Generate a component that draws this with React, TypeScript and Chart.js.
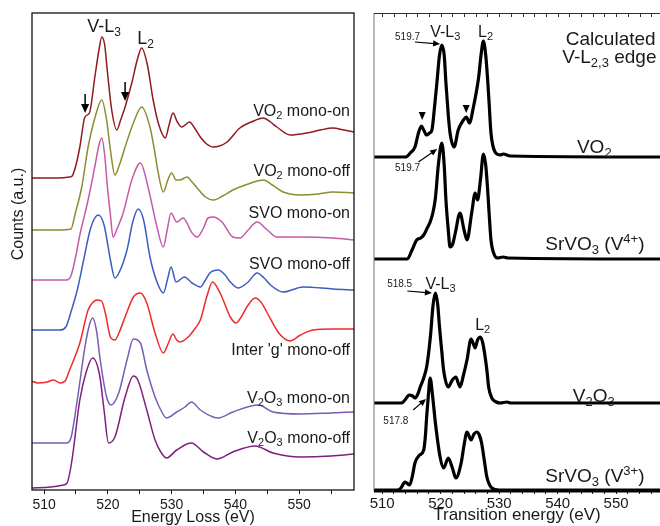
import React, { useEffect, useRef } from 'react';
import { Chart, registerables } from 'chart.js';

Chart.register(...registerables);

const FONT = '"Liberation Sans", Arial, Helvetica, sans-serif';

// ---------------- Left panel: measured spectra (x: energy loss eV, y: counts a.u. incl. stacking offset)
const vo2OnE = [508, 510, 512, 514, 514.4, 515, 515.6, 516.4, 517.1, 518.0, 518.6, 519.05, 519.5, 519.9, 520.6, 521.4, 522.0, 522.7, 523.75, 524.6, 525.3, 526.2, 527.1, 528.0, 529.0, 529.6, 530.2, 530.9, 531.6, 532.8, 533.6, 534.5, 535.5, 536.5, 537.5, 538.7, 540.7, 542.5, 544.4, 545.5, 546.5, 548.6, 551.2, 553.3, 555.3, 557, 558.6];
const vo2OnV = [312, 312, 312, 313, 314, 325, 343, 373, 377, 415, 440, 453, 445, 420, 380, 360, 370, 383, 407, 430, 442, 425, 390, 365, 352, 365, 377, 368, 363, 368, 362, 353, 346, 343, 344, 348, 362, 368, 372, 368, 363, 355, 357, 360, 362, 360, 358];

const vo2OffE = [508, 512, 514.2, 514.9, 515.9, 516.9, 518.0, 519.05, 519.8, 520.4, 521.1, 521.8, 522.7, 524.0, 525.3, 526.6, 527.3, 527.9, 528.7, 529.4, 530.0, 530.7, 531.3, 532.4, 533.2, 534.0, 535.3, 536.5, 538, 539.6, 542, 544.4, 545.8, 547.5, 550.2, 553, 555.3, 558.6];
const vo2OffV = [260, 260, 261, 277, 303, 343, 373, 390, 370, 340, 315, 325, 343, 367, 383, 363, 340, 317, 298, 310, 317, 310, 310, 313, 308, 302, 293, 290, 294, 300, 306, 310, 305, 298, 295, 296, 298, 297];

const svoOnE = [508, 513.5, 514.2, 515.0, 515.6, 516.9, 518.0, 518.6, 519.05, 519.5, 519.9, 520.4, 520.8, 521.5, 522.4, 523.75, 525.1, 526.3, 527.0, 527.7, 528.7, 529.3, 529.9, 530.8, 531.8, 533.2, 534.0, 535, 535.7, 536.5, 537.9, 539.6, 540.7, 542, 543.4, 545, 546.5, 550.2, 555.3, 558.6];
const svoOnV = [210, 210, 214, 235, 255, 290, 325, 345, 352, 335, 305, 275, 253, 262, 277, 310, 327, 303, 283, 263, 243, 260, 277, 268, 272, 257, 253, 262, 272, 273, 268, 253, 252, 260, 268, 260, 253, 253, 252, 250];

const svoOffE = [508, 512.5, 513.4, 514.3, 515.2, 516.2, 517.3, 518.5, 519.4, 520.4, 521.1, 521.8, 523.0, 523.9, 524.75, 525.6, 526.6, 527.7, 528.7, 529.4, 529.9, 530.7, 532.0, 533.2, 534.5, 535.3, 536, 537.3, 538.4, 539.2, 540.4, 542, 543.4, 544.5, 545.5, 547.5, 550.6, 555.3, 558.6];
const svoOffV = [160, 160, 163, 180, 200, 230, 262, 275, 265, 230, 212, 218, 240, 268, 281, 270, 233, 208, 197, 212, 223, 208, 213, 207, 203, 210, 217, 220, 215, 208, 202, 208, 217, 212, 205, 198, 203, 201, 200];

const interE = [508, 509, 510.5, 511.5, 512.5, 513.3, 514, 515.6, 516.9, 517.7, 518.3, 519.0, 519.6, 520.4, 521.1, 521.8, 522.7, 524.0, 525.1, 526.1, 527.4, 528.7, 529.5, 530.2, 530.8, 531.3, 532.6, 533.5, 534.5, 535.5, 536.4, 537.6, 538.4, 539.2, 540.1, 541, 541.8, 543.1, 544, 545, 546.8, 548.6, 550.2, 552.2, 555.3, 558.6];
const interV = [109, 107, 108, 110, 107, 109, 120, 147, 180, 188, 190, 189, 177, 153, 150, 158, 173, 193, 197, 187, 157, 137, 147, 156, 150, 148, 153, 160, 170, 193, 208, 197, 185, 173, 167, 174, 183, 192, 188, 177, 157, 149, 155, 160, 161, 161];

const v2o3OnE = [508, 513.5, 514.2, 515.2, 516.4, 517.1, 517.6, 518.2, 518.8, 519.8, 520.5, 521.7, 523.0, 524.0, 525.1, 526.1, 527.4, 528.3, 529.2, 530.8, 532.1, 533.1, 534.5, 536.5, 537.3, 539.6, 543.6, 545.9, 550.2, 555, 558.6];
const v2o3OnV = [47, 47, 52, 90, 143, 165, 172, 160, 130, 93, 85, 97, 130, 151, 147, 120, 93, 80, 72, 78, 83, 88, 80, 73, 72, 78, 85, 78, 76, 77, 78];

const v2o3OffE = [508, 511, 513, 513.6, 514.3, 515.6, 516.6, 517.6, 518.7, 519.4, 520.1, 521.1, 522.7, 524.0, 524.7, 526.1, 527.4, 528.3, 529.2, 530.8, 533.1, 535, 537.1, 539.6, 543.1, 545.9, 550.2, 555, 558.6];
const v2o3OffV = [2, 3, 5, 7, 27, 90, 118, 132, 115, 80, 47, 53, 93, 114, 110, 80, 50, 38, 32, 40, 47, 38, 31, 38, 44, 37, 33, 34, 36];

const leftNames = ['VO2 mono-on', 'VO2 mono-off', 'SVO mono-on', 'SVO mono-off', "Inter 'g' mono-off", 'V2O3 mono-on', 'V2O3 mono-off'];
const leftColors = ['#8E1B1E', '#8C8C32', '#C659A8', '#3B5CC0', '#EE2A2A', '#7A5CB4', '#7E2080'];
const leftE = [vo2OnE, vo2OffE, svoOnE, svoOffE, interE, v2o3OnE, v2o3OffE];
const leftV = [vo2OnV, vo2OffV, svoOnV, svoOffV, interV, v2o3OnV, v2o3OffV];
const leftTicks = [510, 515, 520, 525, 530, 535, 540, 545, 550, 555];

// ---------------- Right panel: calculated spectra (x: transition energy eV)
const vo2CalcE = [508.6, 514, 514.8, 515.6, 516.2, 516.7, 517.1, 517.6, 518.1, 518.5, 518.9, 519.35, 519.8, 520.2, 520.6, 520.9, 521.3, 521.6, 522.3, 523.0, 523.9, 524.4, 524.9, 525.6, 526.5, 526.9, 527.3, 527.7, 528.0, 528.3, 528.6, 529.3, 530.2, 530.7, 531.9, 557.5];
const vo2CalcV = [334, 334, 338, 344, 358, 365, 361, 356, 358, 361, 381, 408, 436, 446, 436, 408, 376, 358, 344, 361, 371, 374, 368, 384, 414, 436, 450, 436, 414, 386, 358, 339, 336, 337, 335, 334];

const srv4E = [508.6, 514.3, 515.1, 515.9, 516.6, 517.1, 517.7, 518.2, 518.7, 519.1, 519.6, 520.2, 520.6, 520.9, 521.3, 521.6, 522.0, 522.5, 523.3, 524.0, 524.5, 525.3, 525.9, 526.3, 526.8, 527.3, 527.7, 528.0, 528.3, 528.6, 529.0, 529.7, 530.7, 531.5, 557.5];
const srv4V = [232, 232, 241, 251, 253, 256, 263, 269, 279, 293, 326, 348, 326, 291, 261, 244, 246, 258, 278, 261, 251, 278, 298, 291, 311, 337, 326, 304, 276, 251, 239, 233, 234, 233, 232];

const v2o3CalcE = [508.6, 513.3, 513.9, 514.6, 515.2, 515.6, 516.1, 516.5, 517.1, 517.6, 518.0, 518.3, 518.7, 519.1, 519.5, 519.8, 520.2, 520.5, 521.3, 522.0, 522.6, 523.0, 523.3, 523.9, 524.5, 525.2, 525.6, 525.9, 526.3, 526.8, 527.2, 527.5, 527.9, 528.2, 528.75, 529.5, 530.2, 531.3, 532, 557.5];
const v2o3CalcV = [88, 88, 91, 96, 95, 93, 97, 104, 113, 124, 141, 158, 186, 198, 186, 164, 139, 121, 104, 111, 114, 108, 104, 116, 131, 152, 147, 143, 151, 154, 148, 138, 121, 104, 93, 89, 88, 89, 88, 88];

const srv3E = [508.6, 512.6, 513.2, 513.9, 514.7, 515.2, 515.6, 516.4, 517.1, 517.4, 517.6, 517.9, 518.2, 518.6, 519.1, 519.9, 520.5, 521.3, 522.0, 522.6, 523.5, 524.0, 524.5, 525.2, 525.7, 526.2, 526.6, 527.0, 527.5, 527.9, 528.75, 530, 557.5];
const srv3V = [1, 1, 3, 9, 6, 16, 28, 36, 41, 56, 74, 96, 113, 96, 68, 34, 23, 33, 23, 13, 28, 46, 59, 51, 57, 59, 56, 48, 29, 14, 3, 1, 1];

const rightE = [vo2CalcE, srv4E, v2o3CalcE, srv3E];
const rightV = [vo2CalcV, srv4V, v2o3CalcV, srv3V];
const rightNames = ['VO2', 'SrVO3 (V4+)', 'V2O3', 'SrVO3 (V3+)'];
const rightTicks = [510, 512, 514, 516, 518, 520, 522, 524, 526, 528, 530, 532, 534, 536, 538, 540, 542, 544, 546, 548, 550, 552, 554, 556];

type Seg = [string, 'n' | 'sub' | 'sup'];

function drawRich(ctx: CanvasRenderingContext2D, segs: Seg[], x: number, yCenter: number, size: number, align: 'left' | 'right' | 'center', color = '#1a1a1a') {
  const small = Math.round(size * 0.68);
  const widths = segs.map(([t, m]) => {
    ctx.font = `${m === 'n' ? size : small}px ${FONT}`;
    return ctx.measureText(t).width;
  });
  const total = widths.reduce((a, b) => a + b, 0);
  let cx = align === 'left' ? x : align === 'right' ? x - total : x - total / 2;
  const base = yCenter + size * 0.36;
  ctx.save();
  ctx.fillStyle = color;
  ctx.textBaseline = 'alphabetic';
  ctx.textAlign = 'left';
  segs.forEach(([t, m], i) => {
    ctx.font = `${m === 'n' ? size : small}px ${FONT}`;
    const yy = m === 'sub' ? base + size * 0.22 : m === 'sup' ? base - size * 0.38 : base;
    ctx.fillText(t, cx, yy);
    cx += widths[i];
  });
  ctx.restore();
}

function arrow(ctx: CanvasRenderingContext2D, x1: number, y1: number, x2: number, y2: number, head: number, lw: number) {
  const ang = Math.atan2(y2 - y1, x2 - x1);
  ctx.save();
  ctx.strokeStyle = '#000';
  ctx.fillStyle = '#000';
  ctx.lineWidth = lw;
  ctx.beginPath();
  ctx.moveTo(x1, y1);
  ctx.lineTo(x2 - Math.cos(ang) * head * 0.8, y2 - Math.sin(ang) * head * 0.8);
  ctx.stroke();
  ctx.beginPath();
  ctx.moveTo(x2, y2);
  ctx.lineTo(x2 - Math.cos(ang) * head + Math.sin(ang) * head * 0.45, y2 - Math.sin(ang) * head - Math.cos(ang) * head * 0.45);
  ctx.lineTo(x2 - Math.cos(ang) * head - Math.sin(ang) * head * 0.45, y2 - Math.sin(ang) * head + Math.cos(ang) * head * 0.45);
  ctx.closePath();
  ctx.fill();
  ctx.restore();
}

const leftLabelSegs: Seg[][] = [
  [['VO', 'n'], ['2', 'sub'], [' mono-on', 'n']],
  [['VO', 'n'], ['2', 'sub'], [' mono-off', 'n']],
  [['SVO mono-on', 'n']],
  [['SVO mono-off', 'n']],
  [["Inter 'g' mono-off", 'n']],
  [['V', 'n'], ['2', 'sub'], ['O', 'n'], ['3', 'sub'], [' mono-on', 'n']],
  [['V', 'n'], ['2', 'sub'], ['O', 'n'], ['3', 'sub'], [' mono-off', 'n']],
];
const leftLabelV = [380, 320, 278, 227, 141, 93, 53];

const leftDeco = {
  id: 'leftDeco',
  afterDraw(chart: any) {
    const ctx: CanvasRenderingContext2D = chart.ctx;
    const a = chart.chartArea;
    const X = (e: number) => chart.scales.x.getPixelForValue(e);
    const Y = (v: number) => chart.scales.y.getPixelForValue(v);
    ctx.save();
    ctx.strokeStyle = '#111';
    ctx.lineWidth = 1.3;
    ctx.strokeRect(a.left, a.top, a.right - a.left, a.bottom - a.top);
    // y title
    ctx.translate(19, 214);
    ctx.rotate(-Math.PI / 2);
    ctx.font = `16px ${FONT}`;
    ctx.fillStyle = '#1a1a1a';
    ctx.textAlign = 'center';
    ctx.textBaseline = 'middle';
    ctx.fillText('Counts (a.u.)', 0, 0);
    ctx.restore();
    leftLabelSegs.forEach((s, i) => drawRich(ctx, s, a.right - 4, Y(leftLabelV[i]), 16, 'right'));
    drawRich(ctx, [['V-L', 'n'], ['3', 'sub']], X(519.4), Y(464), 18, 'center');
    drawRich(ctx, [['L', 'n'], ['2', 'sub']], X(525.9), Y(452), 18, 'center');
    arrow(ctx, X(516.43), Y(396), X(516.43), Y(377), 9, 1.5);
    arrow(ctx, X(522.7), Y(408), X(522.7), Y(389), 9, 1.5);
  },
};

const rightDeco = {
  id: 'rightDeco',
  afterDraw(chart: any) {
    const ctx: CanvasRenderingContext2D = chart.ctx;
    const a = chart.chartArea;
    const X = (e: number) => chart.scales.x.getPixelForValue(e);
    const Y = (v: number) => chart.scales.y.getPixelForValue(v);
    ctx.save();
    ctx.strokeStyle = '#8a8a8a';
    ctx.lineWidth = 1.2;
    ctx.beginPath();
    ctx.moveTo(a.left, a.top);
    ctx.lineTo(a.left, a.bottom);
    ctx.stroke();
    ctx.strokeStyle = '#333';
    ctx.lineWidth = 1;
    ctx.beginPath();
    ctx.moveTo(a.left, a.top + 0.5);
    ctx.lineTo(a.right, a.top + 0.5);
    rightTicks.forEach((t) => {
      const px = Math.round(X(t)) + 0.5;
      ctx.moveTo(px, a.top);
      ctx.lineTo(px, a.top + 4);
    });
    ctx.stroke();
    ctx.strokeStyle = '#000';
    ctx.lineWidth = 3;
    ctx.beginPath();
    ctx.moveTo(a.left, a.bottom);
    ctx.lineTo(a.right, a.bottom);
    ctx.stroke();
    ctx.restore();

    drawRich(ctx, [['Calculated', 'n']], X(541.4), Y(453), 19, 'left');
    drawRich(ctx, [['V-L', 'n'], ['2,3', 'sub'], [' edge', 'n']], X(540.8), Y(435), 19, 'left');
    drawRich(ctx, [['VO', 'n'], ['2', 'sub']], X(543.3), Y(345), 19, 'left');
    drawRich(ctx, [['SrVO', 'n'], ['3', 'sub'], [' (V', 'n'], ['4+', 'sup'], [')', 'n']], X(537.9), Y(248), 19, 'left');
    drawRich(ctx, [['V', 'n'], ['2', 'sub'], ['O', 'n'], ['3', 'sub']], X(542.6), Y(96), 19, 'left');
    drawRich(ctx, [['SrVO', 'n'], ['3', 'sub'], [' (V', 'n'], ['3+', 'sup'], [')', 'n']], X(537.9), Y(16), 19, 'left');

    drawRich(ctx, [['519.7', 'n']], X(512.2), Y(455), 10, 'left');
    arrow(ctx, X(515.6), Y(449), X(519.9), Y(447), 7, 1.2);
    drawRich(ctx, [['V-L', 'n'], ['3', 'sub']], X(518.2), Y(460), 16, 'left');
    drawRich(ctx, [['L', 'n'], ['2', 'sub']], X(526.4), Y(460), 16, 'left');
    drawRich(ctx, [['519.7', 'n']], X(512.2), Y(324), 10, 'left');
    arrow(ctx, X(516.2), Y(329), X(519.4), Y(342), 7, 1.2);
    drawRich(ctx, [['518.5', 'n']], X(510.85), Y(208), 10, 'left');
    arrow(ctx, X(514.3), Y(200), X(518.5), Y(198), 7, 1.2);
    drawRich(ctx, [['V-L', 'n'], ['3', 'sub']], X(517.4), Y(208), 16, 'left');
    drawRich(ctx, [['L', 'n'], ['2', 'sub']], X(525.9), Y(167), 16, 'left');
    drawRich(ctx, [['517.8', 'n']], X(510.2), Y(71), 10, 'left');
    arrow(ctx, X(515.3), Y(81), X(517.5), Y(92), 7, 1.2);

    // small triangles marking shoulders in VO2
    [[516.84, 375], [524.36, 382]].forEach(([e, v]) => {
      const px = X(e);
      const py = Y(v);
      ctx.save();
      ctx.fillStyle = '#000';
      ctx.beginPath();
      ctx.moveTo(px - 3.5, py - 4);
      ctx.lineTo(px + 3.5, py - 4);
      ctx.lineTo(px, py + 4);
      ctx.closePath();
      ctx.fill();
      ctx.restore();
    });
  },
};

function leftConfig(): any {
  return {
    type: 'line',
    data: {
      datasets: leftNames.map((n, i) => ({
        label: n,
        data: leftE[i].map((e, j) => ({ x: e, y: leftV[i][j] })),
        borderColor: leftColors[i],
        borderWidth: 1.5,
        pointRadius: 0,
        fill: false,
        tension: 0.4,
        cubicInterpolationMode: 'monotone',
      })),
    },
    options: {
      responsive: false,
      animation: false,
      layout: { padding: { left: 32, top: 13, right: 6, bottom: 0 } },
      plugins: { legend: { display: false }, tooltip: { enabled: false } },
      scales: {
        x: {
          type: 'linear',
          min: 508.1,
          max: 558.6,
          afterBuildTicks: (s: any) => {
            s.ticks = leftTicks.map((v) => ({ value: v }));
          },
          afterFit: (s: any) => {
            s.height = 36;
          },
          grid: { display: true, drawOnChartArea: false, drawTicks: true, tickLength: 4, color: '#111', lineWidth: 1 },
          border: { display: false },
          ticks: {
            autoSkip: false,
            maxRotation: 0,
            padding: 3,
            color: '#1a1a1a',
            font: { family: FONT, size: 14 },
            callback: (v: number) => (v % 10 === 0 ? String(v) : ''),
          },
          title: { display: true, text: 'Energy Loss (eV)', color: '#1a1a1a', font: { family: FONT, size: 16, lineHeight: 1 }, padding: 0 },
        },
        y: { display: false, min: 0, max: 477 },
      },
    },
    plugins: [leftDeco],
  };
}

function rightConfig(): any {
  return {
    type: 'line',
    data: {
      datasets: rightNames.map((n, i) => ({
        label: n,
        data: rightE[i].map((e, j) => ({ x: e, y: rightV[i][j] })),
        borderColor: '#000',
        borderWidth: 3.2,
        pointRadius: 0,
        fill: false,
        tension: 0.4,
        cubicInterpolationMode: 'monotone',
        borderJoinStyle: 'round',
      })),
    },
    options: {
      responsive: false,
      animation: false,
      layout: { padding: { left: 14, top: 13, right: 0, bottom: 0 } },
      plugins: { legend: { display: false }, tooltip: { enabled: false } },
      scales: {
        x: {
          type: 'linear',
          min: 508.6,
          max: 557.5,
          afterBuildTicks: (s: any) => {
            s.ticks = rightTicks.map((v) => ({ value: v }));
          },
          afterFit: (s: any) => {
            s.height = 35;
          },
          grid: { display: true, drawOnChartArea: false, drawTicks: true, tickLength: 3, color: '#222', lineWidth: 1 },
          border: { display: false },
          ticks: {
            autoSkip: false,
            maxRotation: 0,
            padding: 1,
            color: '#1a1a1a',
            font: { family: FONT, size: 15 },
            callback: (v: number) => (v % 10 === 0 ? String(v) : ''),
          },
          title: { display: true, text: 'Transition energy (eV)', color: '#1a1a1a', font: { family: FONT, size: 17 }, padding: { top: 0, bottom: 0 } },
        },
        y: { display: false, min: 0, max: 478 },
      },
    },
    plugins: [rightDeco],
  };
}

export default function App() {
  const leftRef = useRef<HTMLCanvasElement>(null);
  const rightRef = useRef<HTMLCanvasElement>(null);
  useEffect(() => {
    const c1 = new Chart(leftRef.current as HTMLCanvasElement, leftConfig());
    const c2 = new Chart(rightRef.current as HTMLCanvasElement, rightConfig());
    return () => {
      c1.destroy();
      c2.destroy();
    };
  }, []);
  return (
    <div style={{ position: 'fixed', left: 0, top: 0, width: 660, height: 526, background: '#fff', overflow: 'hidden' }}>
      <canvas ref={leftRef} width={360} height={526} style={{ position: 'absolute', left: 0, top: 0, width: 360, height: 526 }} />
      <canvas ref={rightRef} width={300} height={526} style={{ position: 'absolute', left: 360, top: 0, width: 300, height: 526 }} />
    </div>
  );
}
